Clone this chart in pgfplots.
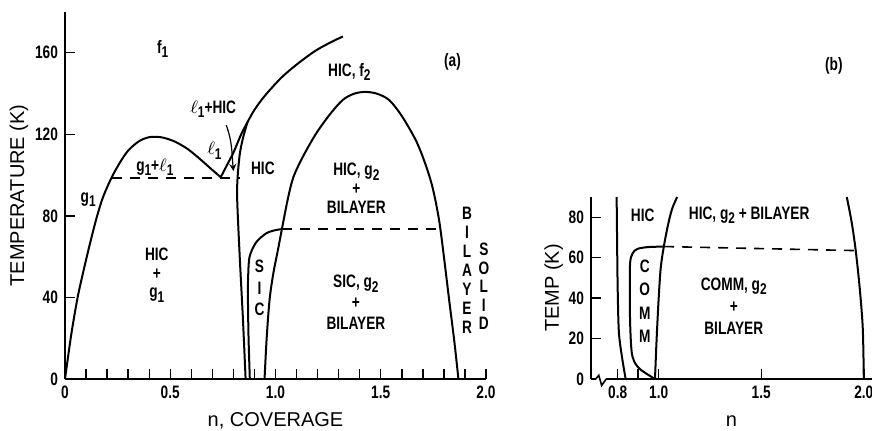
\documentclass[border=0pt]{standalone}
\usepackage{fontspec}
\setmainfont{Liberation Sans}
\newfontfamily\cond{Liberation Sans Bold}[FakeStretch=0.76]
\usepackage{pgfplots}
\pgfplotsset{compat=1.18}
\newcommand\lab{\cond\fontsize{9}{9.3}\selectfont}
\newcommand\vt[1]{\cond\fontsize{9}{#1}\selectfont}
\newcommand\sub[1]{\raisebox{-0.45ex}{\fontsize{7.8}{7.8}\selectfont #1}}
\begin{document}
\begin{tikzpicture}
\useasboundingbox (0,0) rectangle (436pt,215.5pt);
\pgfplotsset{
  common/.style={
    scale only axis, axis x line=bottom, axis y line=left,
    axis line style={line width=0.8pt,-},
    tick style={line width=0.7pt, black},
    tick align=inside, major tick length=5pt, minor tick length=5pt,
    tick label style={font=\lab},
    label style={font=\fontsize{10}{10}\selectfont},
    every axis plot/.append style={line width=1pt, black, mark=none},
    clip=false,
  },
}
% ---------------- panel (a) ----------------
\begin{axis}[common, at={(32.5pt,26pt)}, anchor=south west,
  width=210.5pt, height=183.5pt,
  xmin=0, xmax=2, ymin=0, ymax=180,
  xtick={0,0.5,1,1.5,2}, xticklabels={0,0.5,1.0,1.5,2.0},
  minor xtick={0.1,0.2,0.3,0.4,0.6,0.7,0.8,0.9,1.1,1.2,1.3,1.4,1.6,1.7,1.8,1.9},
  ytick={0,40,80,120,160}, yticklabels={0,40,80,120,160},
  xlabel={n, COVERAGE}, ylabel={TEMPERATURE (K)},
  xlabel style={yshift=0pt}, ylabel style={yshift=-3.5pt},
]
% g1 dome up to the l1 minimum
\addplot[smooth] coordinates {(0,0) (0.03,22) (0.06,40) (0.09,54) (0.12,67) (0.15,79) (0.18,89) (0.22,98.5) (0.26,106) (0.30,112) (0.35,116.5) (0.40,118.6) (0.46,118.5) (0.52,116.5) (0.58,113) (0.64,108) (0.70,102.5) (0.74,99)};
% l1 line and upper melting curve
\addplot[smooth] coordinates {(0.74,99) (0.77,105) (0.80,111) (0.837,120) (0.867,126) (0.90,132) (0.95,139) (1.03,148) (1.11,155) (1.19,161) (1.26,165) (1.32,168)};
% HIC left boundary
\addplot[smooth] coordinates {(0.858,0) (0.845,30) (0.83,60) (0.818,88) (0.82,99) (0.83,110) (0.845,118) (0.867,126)};
% SIC left boundary
\addplot[smooth] coordinates {(0.878,0) (0.872,20) (0.869,40) (0.870,50) (0.877,60) (0.908,67) (0.957,71.5) (1.0,73) (1.03,73.5)};
% right dome
\addplot[smooth] coordinates {(0.948,0) (0.958,20) (0.972,39) (0.99,52) (1.011,63) (1.035,76) (1.06,89) (1.085,99) (1.13,109) (1.193,120.4) (1.26,130) (1.319,136.8) (1.37,139.8) (1.422,140.8) (1.48,140) (1.54,136.8) (1.60,129) (1.667,117) (1.71,106) (1.746,94) (1.777,78) (1.80,60) (1.825,38.7) (1.85,18) (1.869,0)};
% dashed tie lines
\addplot[dashed, dash pattern=on 5pt off 4pt, line width=0.8pt] coordinates {(0.221,98.5) (0.829,98.5)};
\addplot[dashed, dash pattern=on 5pt off 4pt, line width=0.8pt] coordinates {(1.03,73.5) (1.785,73.5)};
% arrow
\draw[-stealth, line width=0.6pt] (axis cs:0.766,124.5) to[out=-70,in=95] (axis cs:0.80,102);
% labels
\node[font=\lab] at (axis cs:0.464,162) {f\sub{1}};
\node[font=\lab] at (axis cs:1.351,150.6) {HIC, f\sub{2}};
\node[font=\lab] at (axis cs:1.841,155.4) {(a)};
\node[font=\lab] at (axis cs:0.704,132.4) {$\ell$\sub{1}+HIC};
\node[font=\lab] at (axis cs:0.71,112) {$\ell$\sub{1}};
\node[font=\lab] at (axis cs:0.427,104) {g\sub{1}+$\ell$\sub{1}};
\node[font=\lab] at (axis cs:0.94,103.4) {HIC};
\node[font=\lab] at (axis cs:0.11,88) {g\sub{1}};
\node[font=\vt{9.3}, align=center] at (axis cs:0.436,51) {HIC\\+\\g\sub{1}};
\node[font=\vt{10.8}, align=center] at (axis cs:0.924,44.6) {S\\I\\C};
\node[font=\vt{9.3}, align=center] at (axis cs:1.384,93.6) {HIC, g\sub{2}\\+\\BILAYER};
\node[font=\vt{10.3}, align=center] at (axis cs:1.382,37.7) {SIC, g\sub{2}\\+\\BILAYER};
\node[font=\vt{9.5}, align=center] at (axis cs:1.91,53.5) {B\\I\\L\\A\\Y\\E\\R};
\node[font=\vt{9.2}, align=center] at (axis cs:1.99,45.4) {S\\O\\L\\I\\D};
\end{axis}
% ---------------- panel (b) ----------------
\begin{axis}[common, at={(295.5pt,26pt)}, anchor=south west,
  width=140.5pt, height=91pt,
  xmin=0.67, xmax=2.04, ymin=0, ymax=90,
  xtick={0.8,0.9,1,1.5,2}, xticklabels={0.8,,1.0,1.5,2.0},
  ytick={0,20,40,60,80}, yticklabels={0,20,40,60,80},
  xlabel={n}, ylabel={TEMP (K)},
  xlabel style={yshift=-1.5pt}, ylabel style={yshift=-4pt},
]
% HIC left boundary
\addplot[smooth] coordinates {(0.795,90) (0.797,70) (0.80,45) (0.806,23) (0.823,9.6) (0.839,0)};
% COMM boundary
\addplot[smooth] coordinates {(0.982,0) (0.912,4.6) (0.88,8.8) (0.867,14.6) (0.86,31) (0.86,56) (0.872,62) (0.896,64.3) (0.945,65.2) (1.026,65.5)};
% COMM right / HIC,g2 left boundary
\addplot[smooth] coordinates {(0.982,0) (0.99,20) (1.0,40) (1.01,55) (1.025,65.5) (1.045,76) (1.065,84) (1.09,90)};
% right boundary
\addplot[smooth] coordinates {(1.917,90) (1.94,78) (1.96,64) (1.98,45) (1.995,25) (2.0,0)};
% dashed
\addplot[dashed, dash pattern=on 5pt off 4pt, line width=0.8pt] coordinates {(1.026,65.5) (1.96,63.5)};
% axis break
\fill[white] (axis cs:0.695,-1.3) rectangle (axis cs:0.742,1.3);
\draw[line width=0.8pt] (axis cs:0.693,0) -- (axis cs:0.708,1.8) -- (axis cs:0.722,-3.2) -- (axis cs:0.744,0);
% labels
\node[font=\lab] at (axis cs:1.854,155) {(b)};
\node[font=\lab] at (axis cs:0.922,81) {HIC};
\node[font=\lab] at (axis cs:1.441,81) {HIC, g\sub{2} + BILAYER};
\node[font=\vt{11.7}, align=center] at (axis cs:0.932,38.5) {C\\O\\M\\M};
\node[font=\vt{11}, align=center] at (axis cs:1.366,36) {COMM, g\sub{2}\\+\\BILAYER};
\end{axis}
\end{tikzpicture}
\end{document}
